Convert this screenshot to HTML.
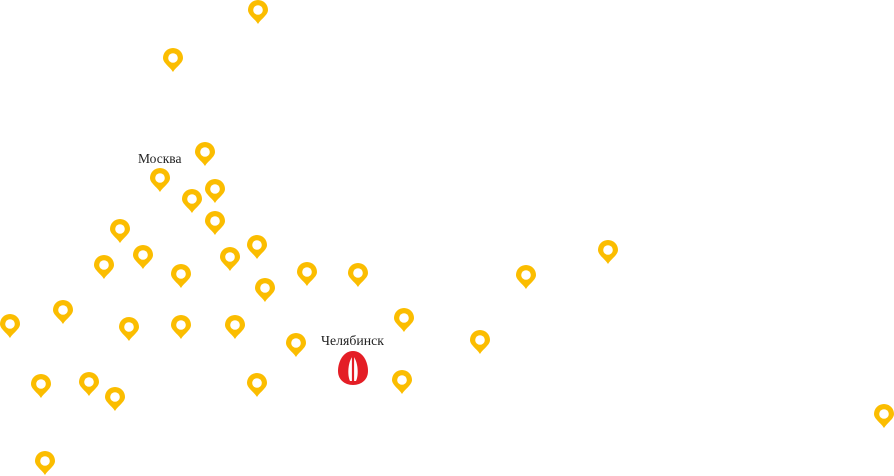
<!DOCTYPE html>
<html><head><meta charset="utf-8"><style>
html,body{margin:0;padding:0;background:#fff;width:894px;height:476px;overflow:hidden}
</style></head><body>
<svg width="894" height="476" viewBox="0 0 894 476" xmlns="http://www.w3.org/2000/svg">
<defs>
<g id="p">
<path d="M0,13 C-3,8 -10,4 -10,-1 A10,10 0 1 1 10,-1 C10,4 3,8 0,13 Z" fill="#fbbd00"/>
<circle cx="0" cy="-1" r="4.8" fill="#fff"/>
</g>
</defs>
<g>
<use href="#p" x="258" y="11"/>
<use href="#p" x="173" y="59"/>
<use href="#p" x="205" y="153"/>
<use href="#p" x="160" y="179"/>
<use href="#p" x="192" y="200"/>
<use href="#p" x="215" y="190"/>
<use href="#p" x="215" y="222"/>
<use href="#p" x="120" y="230"/>
<use href="#p" x="143" y="256"/>
<use href="#p" x="104" y="266"/>
<use href="#p" x="181" y="275"/>
<use href="#p" x="230" y="258"/>
<use href="#p" x="257" y="246"/>
<use href="#p" x="265" y="289"/>
<use href="#p" x="307" y="273"/>
<use href="#p" x="358" y="274"/>
<use href="#p" x="526" y="276"/>
<use href="#p" x="608" y="251"/>
<use href="#p" x="63" y="311"/>
<use href="#p" x="10" y="325"/>
<use href="#p" x="129" y="328"/>
<use href="#p" x="181" y="326"/>
<use href="#p" x="235" y="326"/>
<use href="#p" x="296" y="344"/>
<use href="#p" x="404" y="319"/>
<use href="#p" x="480" y="341"/>
<use href="#p" x="41" y="385"/>
<use href="#p" x="89" y="383"/>
<use href="#p" x="115" y="398"/>
<use href="#p" x="257" y="384"/>
<use href="#p" x="402" y="381"/>
<use href="#p" x="884" y="415"/>
<use href="#p" x="45" y="462"/>
</g>
<path d="M353,351 C363,351 368,362 368,371 C368,380 361,385 353,385 C345,385 338,380 338,371 C338,362 343,351 353,351 Z" fill="#e41e26"/>
<path d="M353,356 C358,361 359,375 356,381 L350,381 C347,375 348,361 353,356 Z" fill="#fff"/>
<path d="M353,355 L353,383" stroke="#e41e26" stroke-width="2.2"/>
<text x="138" y="163" font-family="Liberation Serif, serif" font-size="13.5" fill="#222">Москва</text>
<text x="321" y="345" font-family="Liberation Serif, serif" font-size="13.8" fill="#222">Челябинск</text>
</svg>
</body></html>
